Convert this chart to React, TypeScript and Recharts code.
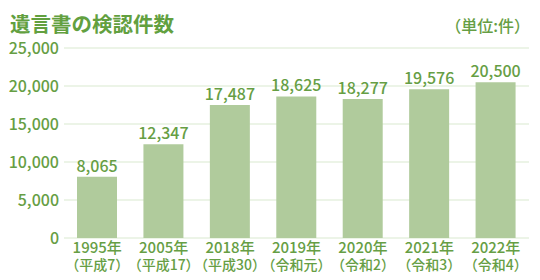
import React from "react";
import { BarChart, Bar, XAxis, YAxis, CartesianGrid, LabelList } from "recharts";

const years = ["1995年", "2005年", "2018年", "2019年", "2020年", "2021年", "2022年"];
const eras = ["（平成7）", "（平成17）", "（平成30）", "（令和元）", "（令和2）", "（令和3）", "（令和4）"];
const counts = [8065, 12347, 17487, 18625, 18277, 19576, 20500];
const yTicks = [0, 5000, 10000, 15000, 20000, 25000];

const data = years.map((y, i) => ({ year: y, era: eras[i], count: counts[i] }));

const FONT = "'Noto Sans CJK JP', 'Noto Sans', sans-serif";
const TEXT = "#669e44";
const BAR = "#b0cb9c";
const GRID = "#e6f0df";

const fmt = (v: number) => v.toLocaleString("en-US");

const XTick = (props: any) => {
  const { x, y, payload, index } = props;
  return (
    <g>
      <text x={x} y={y + 7} textAnchor="middle" fill={TEXT} fontSize={15} fontWeight={500} fontFamily={FONT}>
        {payload.value}
      </text>
      <text x={x} y={y + 24} textAnchor="middle" fill={TEXT} fontSize={14} fontWeight={500} fontFamily={FONT}>
        {eras[index]}
      </text>
    </g>
  );
};

export default function App() {
  return (
    <div style={{ position: "absolute", left: 0, top: 0, width: 540, height: 280, background: "#fff" }}>
      <div
        style={{
          position: "absolute",
          left: 10,
          top: 8,
          fontFamily: FONT,
          fontSize: 20.5,
          fontWeight: 700,
          color: "#62a03f",
          lineHeight: "30px",
          whiteSpace: "nowrap",
        }}
      >
        遺言書の検認件数
      </div>
      <div
        style={{
          position: "absolute",
          right: 10,
          top: 11,
          fontFamily: FONT,
          fontSize: 16,
          fontWeight: 500,
          color: TEXT,
          lineHeight: "28px",
          whiteSpace: "nowrap",
        }}
      >
        （単位:件）
      </div>
      <BarChart
        width={540}
        height={280}
        data={data}
        margin={{ top: 48, right: 11, bottom: 0, left: 0 }}
        barCategoryGap="20%"
      >
        <CartesianGrid horizontal vertical={false} stroke={GRID} strokeWidth={1.5} />
        <XAxis
          dataKey="year"
          axisLine={false}
          tickLine={false}
          height={42}
          interval={0}
          tick={<XTick />}
        />
        <YAxis
          domain={[0, 25000]}
          ticks={yTicks}
          width={64}
          axisLine={false}
          tickLine={false}
          tickSize={3}
          tickMargin={2}
          tickFormatter={fmt}
          tick={{ fill: TEXT, fontSize: 16, fontWeight: 500, fontFamily: FONT }}
        />
        <Bar dataKey="count" fill={BAR} isAnimationActive={false} barSize={40}>
          <LabelList
            dataKey="count"
            position="top"
            offset={5}
            formatter={(v: any) => fmt(Number(v))}
            fill={TEXT}
            fontSize={16}
            fontWeight={500}
            fontFamily={FONT}
          />
        </Bar>
      </BarChart>
    </div>
  );
}
